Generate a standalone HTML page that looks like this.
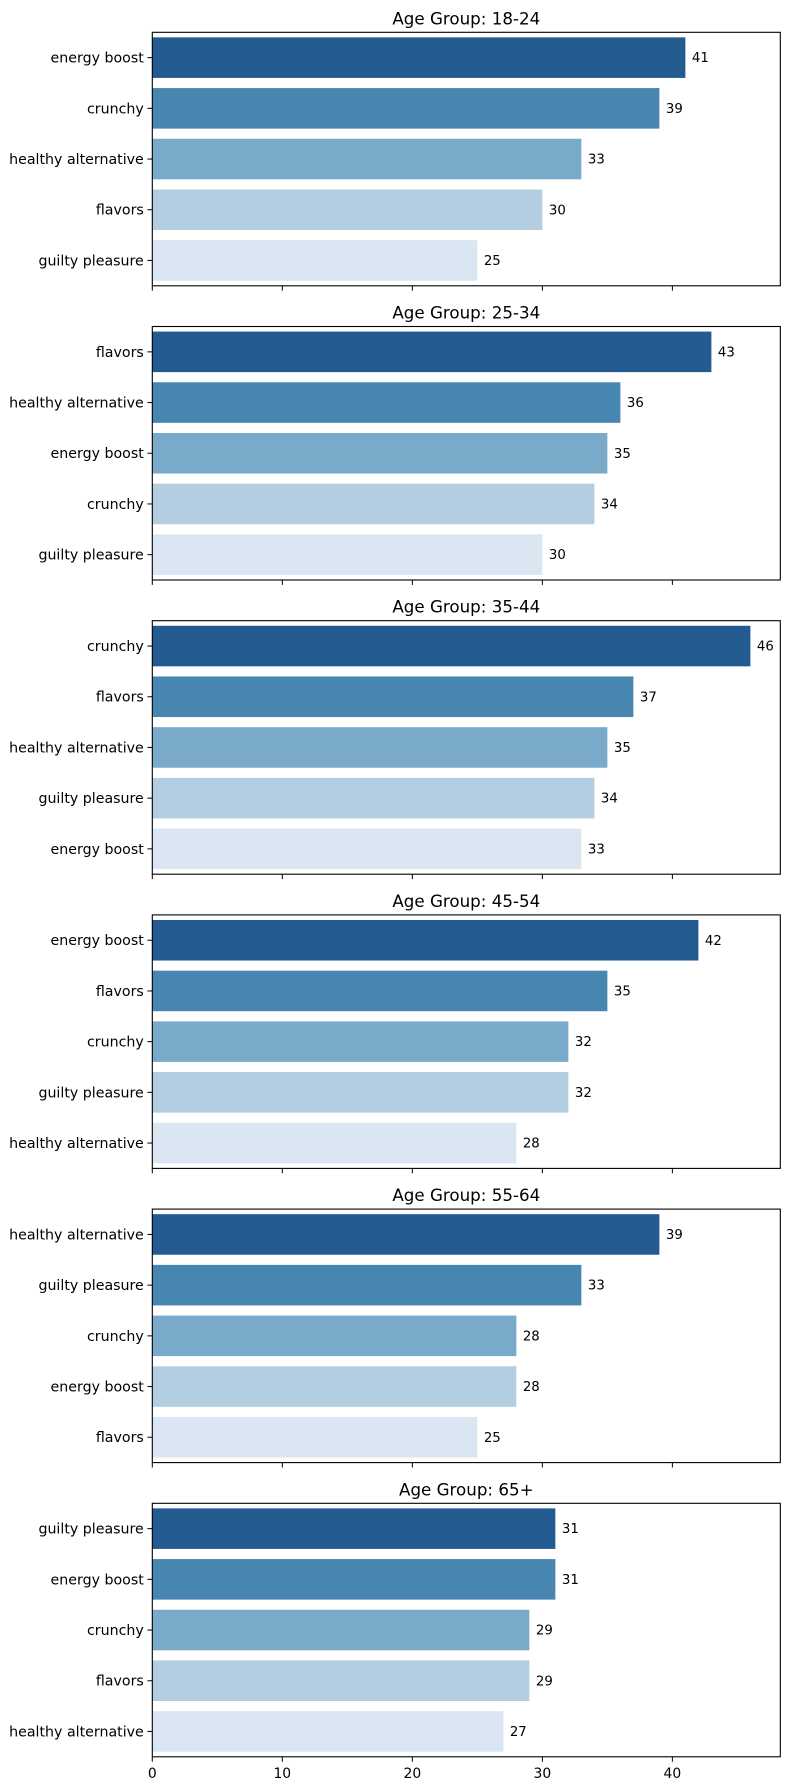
<!DOCTYPE html>
<html><head><meta charset="utf-8"><style>
html,body{margin:0;padding:0;background:#fff;}
svg{display:block;font-family:"DejaVu Sans","Liberation Sans",sans-serif;}
</style></head><body>
<svg id="chart" width="790" height="1790" viewBox="0 0 790 1790" xmlns="http://www.w3.org/2000/svg"></svg>
<script>
const groups = ["18-24","25-34","35-44","45-54","55-64","65+"];
const cats1 = ["energy boost","crunchy","healthy alternative","flavors","guilty pleasure"];
const vals1 = [41,39,33,30,25];
const cats2 = ["flavors","healthy alternative","energy boost","crunchy","guilty pleasure"];
const vals2 = [43,36,35,34,30];
const cats3 = ["crunchy","flavors","healthy alternative","guilty pleasure","energy boost"];
const vals3 = [46,37,35,34,33];
const cats4 = ["energy boost","flavors","crunchy","guilty pleasure","healthy alternative"];
const vals4 = [42,35,32,32,28];
const cats5 = ["healthy alternative","guilty pleasure","crunchy","energy boost","flavors"];
const vals5 = [39,33,28,28,25];
const cats6 = ["guilty pleasure","energy boost","crunchy","flavors","healthy alternative"];
const vals6 = [31,31,29,29,27];
const xTicks = [0,10,20,30,40];
const xMax = 48.3;

const allCats=[cats1,cats2,cats3,cats4,cats5,cats6];
const allVals=[vals1,vals2,vals3,vals4,vals5,vals6];
const colors=["#235b91","#4886b2","#7aaac9","#b3cee0","#dae6f1"];
const svg=document.getElementById('chart');
const NS="http://www.w3.org/2000/svg";
function mk(tag,attrs,parent){const e=document.createElementNS(NS,tag);for(const k in attrs)e.setAttribute(k,attrs[k]);parent.appendChild(e);return e;}
const L=152.3,R=780.3,H=253.5,step=294.2,top0=32.3;
const xs=v=>L+(v/xMax)*(R-L);
groups.forEach((g,gi)=>{
  const T=top0+gi*step,B=T+H;
  const grp=mk('g',{},svg);
  
  
  const band=H/5;
  const ys=i=>T+band*(i+0.5);
  allCats[gi].forEach((c,i)=>{
    const v=allVals[gi][i];
    const r=mk('rect',{x:L,y:ys(i)-band*0.4,width:xs(v)-L,height:band*0.8,fill:colors[i]},grp);
    
    
    const t=mk('text',{x:xs(v)+6.5,y:ys(i)+4.5,'font-size':'13.3',fill:'#000'},grp);
    t.textContent=v;
    
    
    mk('line',{x1:L-4.9,x2:L,y1:ys(i),y2:ys(i),stroke:'#000','stroke-width':1},grp);
    const yl=mk('text',{x:L-8.5,y:ys(i)+4.9,'font-size':'14.2','text-anchor':'end',fill:'#000'},grp);
    yl.textContent=c;
    
    
  });
  const fr=mk('rect',{x:L,y:T,width:R-L,height:H,fill:'none',stroke:'#000','stroke-width':1.1},grp);
  
  
  xTicks.forEach(tv=>{
    mk('line',{x1:xs(tv),x2:xs(tv),y1:B,y2:B+4.9,stroke:'#000','stroke-width':1},grp);
    if(gi===groups.length-1){
      const xl=mk('text',{x:xs(tv),y:B+21,'font-size':'13.9','text-anchor':'middle',fill:'#000'},grp);
      xl.textContent=tv;
      
      
    }
  });
  const ti=mk('text',{x:(L+R)/2,y:T-8,'font-size':'16.7','text-anchor':'middle',fill:'#000'},grp);
  ti.textContent='Age Group: '+g;
  
  
});
</script>
</body></html>
